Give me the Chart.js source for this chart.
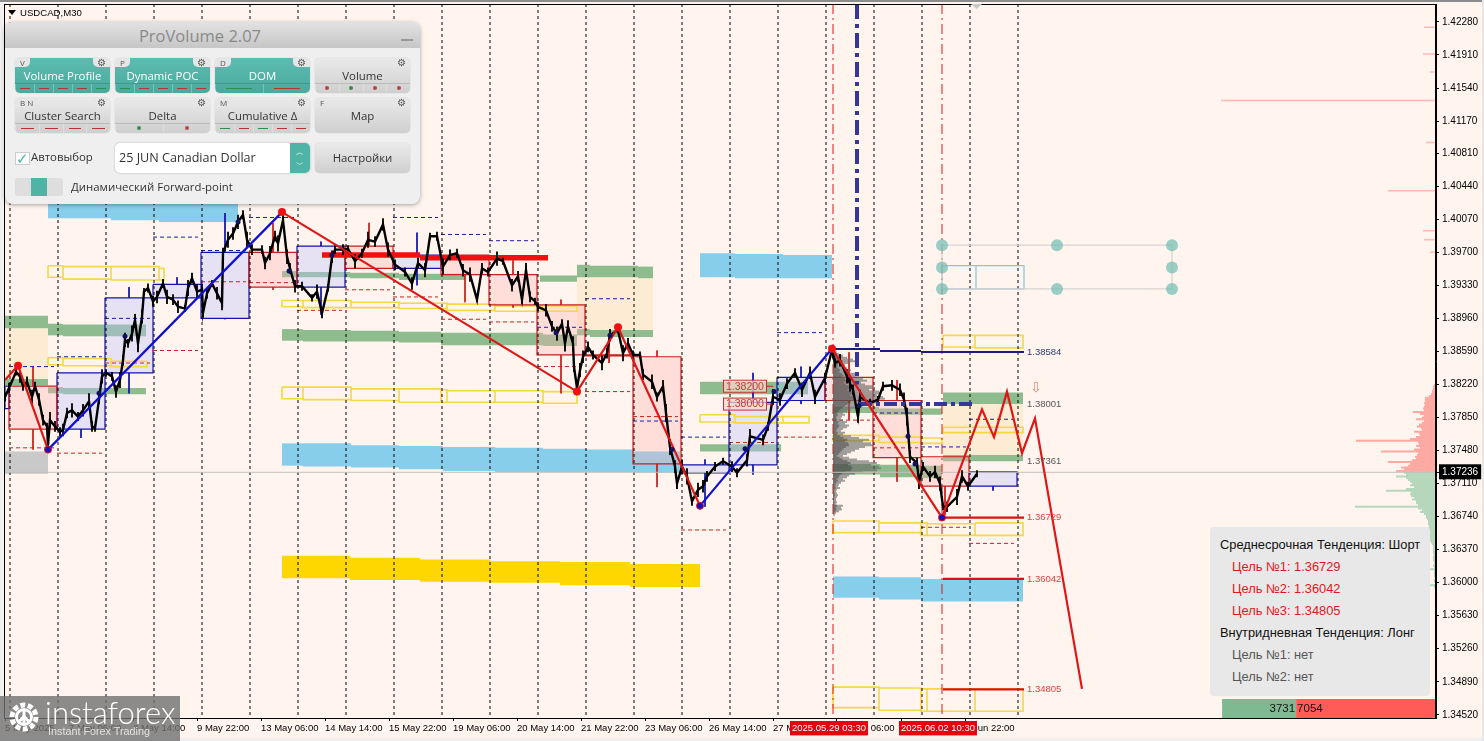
<!DOCTYPE html>
<html><head><meta charset="utf-8">
<script src="https://cdn.jsdelivr.net/npm/chart.js@4"></script>
<style>
html,body{margin:0;padding:0;width:1484px;height:741px;overflow:hidden;background:#fff5ee;font-family:"Liberation Sans",sans-serif}
canvas{position:absolute;left:0;top:0}
.abs{position:absolute}
#panel{left:5px;top:22px;width:415px;height:182px;background:#efefef;border-radius:8px;box-shadow:0 1px 4px rgba(0,0,0,.35);font-family:"Open Sans",sans-serif;overflow:hidden}
#panelHead{left:0;top:0;width:415px;height:26px;background:linear-gradient(#e2e2e2,#c6c6c6);text-align:center;font-size:16.5px;line-height:28px;color:#8a8a8a;padding-right:25px;box-sizing:border-box}
.btn{width:95px;height:35px;border-radius:5px;font-size:11.4px;text-align:center;line-height:36px;box-shadow:0 0 1px #999}
.teal{background:linear-gradient(#5ebdb1,#4aa99d);color:#fff}
.gray{background:linear-gradient(#eaeaea,#cfcfcf);color:#333}
.tab{position:absolute;top:0;left:0;height:9px;padding:0 5px;background:#e6e6e6;border-radius:0 0 5px 0;font-size:8px;line-height:9px;color:#555}
.gear{position:absolute;top:0;right:0;width:17px;height:9px;background:#e6e6e6;border-radius:0 0 0 5px;font-size:10px;line-height:9px;color:#555}
.strip{position:absolute;left:0;right:0;bottom:0;height:9px;display:flex;border-top:1px solid rgba(0,0,0,.12)}
.strip span{flex:1;position:relative;border-left:1px solid rgba(255,255,255,.25)}
.strip i{position:absolute;left:22%;right:22%;top:4px;height:1px}
.strip b{position:absolute;left:50%;top:2px;width:4px;height:4px;margin-left:-2px;border-radius:50%}
#info{left:1210px;top:527px;width:220px;height:169px;background:#e8e8e8;border-radius:4px;font-size:12.85px}
#info div{position:absolute;white-space:nowrap}
#wm{left:0;top:696px;width:180px;height:45px;background:rgba(112,112,112,.8);color:#fff}
</style></head><body>
<canvas id="c" width="1484" height="741"></canvas>
<div class="abs" style="left:0;top:0;width:1484px;height:2px;background:#8c8c8c"></div>
<div class="abs" style="left:0;top:2px;width:3px;height:736px;background:#f0f0f0"></div>
<div class="abs" style="left:0;top:738px;width:1484px;height:3px;background:#efefef"></div>
<div class="abs" style="left:1482px;top:0;width:2px;height:741px;background:#e8e8e8"></div>
<div class="abs" style="left:8px;top:10px;width:0;height:0;border-left:4px solid transparent;border-right:4px solid transparent;border-top:5px solid #000"></div>
<div class="abs" style="left:20px;top:6px;font-size:9.6px;line-height:13px;color:#000">USDCAD,M30</div>

<div class="abs" id="panel">
  <div class="abs" id="panelHead">ProVolume 2.07</div>
  <div class="abs" style="left:396px;top:17px;width:12px;height:2px;background:#999"></div>
  <div class="abs" style="left:10px;top:130px;width:13px;height:11px;background:#fff;border:1px solid #ccc;color:#4fb3a6;font-size:15px;line-height:10px">✓</div>
  <div class="abs" style="left:26px;top:127px;font-size:11.4px;color:#333">Автовыбор</div>
  <div class="abs" style="left:110px;top:121px;width:195px;height:30px;background:#fff;border-radius:5px;box-shadow:0 0 2px #aaa;font-size:12.6px;line-height:30px;color:#333;text-indent:4px">25 JUN Canadian Dollar
    <div class="abs" style="right:0;top:0;width:20px;height:30px;background:#4fb3a6;border-radius:0 5px 5px 0;color:#fff;font-size:8px;line-height:12px;text-align:center;text-indent:0;padding-top:3px;box-sizing:border-box">︿<br>﹀</div>
  </div>
  <div class="abs btn gray" style="left:310px;top:121px;height:30px;line-height:30px">Настройки</div>
  <div class="abs" style="left:10px;top:156px;width:48px;height:18px;background:#dedede;border-radius:3px"><div class="abs" style="left:16px;top:0;width:16px;height:18px;background:#4fb3a6"></div></div>
  <div class="abs" style="left:66px;top:157px;font-size:11.4px;color:#333">Динамический Forward-point</div>
</div>

<div class="abs" id="info">
  <div style="left:10px;top:10px;color:#111">Среднесрочная Тенденция: Шорт</div>
  <div style="left:22px;top:32px;color:#e0181c">Цель №1: 1.36729</div>
  <div style="left:22px;top:54px;color:#e0181c">Цель №2: 1.36042</div>
  <div style="left:22px;top:76px;color:#e0181c">Цель №3: 1.34805</div>
  <div style="left:10px;top:98px;color:#111">Внутридневная Тенденция: Лонг</div>
  <div style="left:22px;top:120px;color:#555">Цель №1: нет</div>
  <div style="left:22px;top:142px;color:#555">Цель №2: нет</div>
</div>

<div class="abs" id="wm">
  <svg class="abs" style="left:6px;top:3px" width="36" height="36" viewBox="0 0 36 36">
    <circle cx="18" cy="18" r="12" fill="none" stroke="#fff" stroke-width="5" stroke-dasharray="5 2.5"/>
    <circle cx="18" cy="18" r="7.5" fill="none" stroke="#fff" stroke-width="3"/>
    <path d="M18 11v15M12 24l6-7 6 7" stroke="#fff" stroke-width="3" fill="none"/>
  </svg>
  <div class="abs" style="left:45px;top:-4px;font-family:Lato,sans-serif;font-weight:300;font-size:31px;line-height:40px;white-space:nowrap">instaforex</div>
  <div class="abs" style="left:48px;top:28px;font-size:10.8px;line-height:14px;color:#e2e2e2;white-space:nowrap">Instant Forex Trading</div>
</div>

<script>
/* ---------- axes ---------- */
const priceTicks=[1.4228,1.4191,1.4154,1.4117,1.4081,1.4044,1.4007,1.3970,1.3933,1.3896,1.3859,1.3822,1.3785,1.3748,1.3711,1.3674,1.3637,1.3600,1.3563,1.3526,1.3489,1.3452];
const lastPrice=1.37236;
const timeBars=[5,69,133,197,261,325,389,453,517,581,645,709,773,837,901,965,792,901];
const timeLabels=['5 May 2025','7 May 06:00','8 May 14:00','9 May 22:00','13 May 06:00','14 May 14:00','15 May 22:00','19 May 06:00','20 May 14:00','21 May 22:00','23 May 06:00','26 May 14:00','27 May 22:00','29 May 06:00','30 May 14:00','2 Jun 22:00','2025.05.29 03:30','2025.06.02 10:30'];
const dayLines=[10,58,106,154,202,250,298,346,394,442,490,538,586,634,682,730,778,826,874,922,970,1018];
const sessionLines=[833,942];

/* ---------- M30 close path ---------- */
const closeBars=[5,9,16,20,23,27,32,35,39,43,47,48,50,55,60,63,67,72,78,83,89,92,95,99,102,106,112,116,120,123,125,128,132,135,138,142,144,148,153,157,163,167,173,178,185,188,192,197,202,203,207,212,217,222,223,228,233,238,243,247,252,262,265,270,275,278,283,287,290,295,302,312,317,322,328,332,335,343,348,355,362,368,375,383,388,395,405,412,418,425,430,437,443,450,457,463,470,477,482,488,497,503,512,518,522,526,530,535,538,546,552,557,562,565,568,573,574,577,580,583,588,593,602,607,610,618,623,628,633,640,643,652,657,663,666,670,675,677,682,687,692,698,703,707,715,723,732,737,747,750,763,768,773,780,787,795,802,810,815,825,832,833,835,840,847,850,853,858,860,870,878,883,892,900,904,907,910,917,919,923,930,935,940,943,947,957,962,968,977];
const closeValues=[1.3808,1.3818,1.3836,1.3831,1.3820,1.3825,1.3808,1.3820,1.3805,1.3782,1.3775,1.3754,1.3782,1.3775,1.3769,1.3771,1.3790,1.3793,1.3786,1.3793,1.3803,1.3775,1.3773,1.3805,1.3831,1.3835,1.3831,1.3814,1.3827,1.3849,1.3872,1.3868,1.3879,1.3894,1.3868,1.3898,1.3926,1.3930,1.3915,1.3920,1.3935,1.3920,1.3917,1.3909,1.3907,1.3930,1.3941,1.3926,1.3928,1.3902,1.3924,1.3935,1.3924,1.3913,1.3969,1.3984,1.3991,1.4004,1.4012,1.3984,1.3973,1.3973,1.3958,1.3969,1.3988,1.3980,1.4006,1.3965,1.3952,1.3932,1.3932,1.3919,1.3926,1.3902,1.3930,1.3965,1.3973,1.3973,1.3974,1.3960,1.3969,1.3984,1.3982,1.4001,1.3973,1.3956,1.3948,1.3935,1.3958,1.3950,1.3988,1.3988,1.3954,1.3967,1.3969,1.3950,1.3945,1.3917,1.3952,1.3948,1.3963,1.3960,1.3933,1.3943,1.3917,1.3950,1.3920,1.3915,1.3909,1.3905,1.3887,1.3879,1.3890,1.3868,1.3887,1.3868,1.3842,1.3818,1.3838,1.3853,1.3864,1.3855,1.3846,1.3857,1.3877,1.3883,1.3857,1.3868,1.3855,1.3855,1.3833,1.3825,1.3808,1.3820,1.3790,1.3752,1.3730,1.3711,1.3730,1.3719,1.3691,1.3704,1.3708,1.3719,1.3730,1.3736,1.3730,1.3723,1.3737,1.3764,1.3760,1.3775,1.3808,1.3805,1.3823,1.3835,1.3816,1.3835,1.3808,1.3829,1.3861,1.3857,1.3846,1.3849,1.3831,1.3823,1.3816,1.3786,1.3808,1.3801,1.3805,1.3820,1.3821,1.3816,1.3805,1.3786,1.3741,1.3734,1.3713,1.3730,1.3719,1.3724,1.3711,1.3685,1.3685,1.3696,1.3719,1.3708,1.3722];
/* half high-low range around each close, in pips */
const closeSpread=[5,6,4,7,5,6,8,5,7,6,4,3,9,6,5,7,6,8,5,7,9,6,4,5,8,4,5,7,9,6,8,5,9,7,10,8,4,5,6,7,5,8,6,7,4,9,6,8,7,5,6,4,7,8,6,9,7,8,5,9,6,5,7,8,6,9,5,8,6,7,5,4,8,6,4,7,5,6,4,8,5,9,6,7,8,6,5,7,6,8,4,5,9,6,5,7,8,3,6,5,8,4,7,6,5,8,6,4,5,7,6,8,5,9,7,8,6,3,8,7,6,5,8,6,7,4,9,6,5,4,6,8,5,7,10,9,7,6,8,9,5,8,7,6,5,4,6,5,7,8,6,5,9,7,6,5,8,7,8,6,4,6,5,7,8,9,6,7,8,5,4,5,6,7,8,10,7,6,8,5,6,7,8,4,6,9,7,5,4,3];

/* ---------- daily bodies ---------- */
const dayStart=[9,57,105,153,201,249,297,345,393,441,489,537,585,633,681,729,777,825,873,921,969];
const dayOpen =[1.3820,1.3772,1.3835,1.3919,1.3896,1.3970,1.3931,1.3977,1.3952,1.3967,1.3945,1.3911,1.3855,1.3853,1.3723,1.3732,1.3804,1.3830,1.3804,1.3741,1.3708];
const dayClose=[1.3772,1.3835,1.3919,1.3934,1.3970,1.3931,1.3977,1.3952,1.3967,1.3945,1.3911,1.3855,1.3854,1.3733,1.3732,1.3802,1.3830,1.3804,1.3740,1.3708,1.3724];
const dayHigh =[1.3842,1.3835,1.3931,1.3942,1.4014,1.4003,1.3982,1.4003,1.3992,1.3967,1.3961,1.3917,1.3877,1.3860,1.3738,1.3835,1.3842,1.3858,1.3827,1.3741,1.3724];
const dayLow  =[1.3749,1.3762,1.3812,1.3919,1.3895,1.3928,1.3900,1.3952,1.3933,1.3914,1.3908,1.3812,1.3846,1.3707,1.3685,1.3721,1.3800,1.3782,1.3713,1.3676,1.3703];
const prevHigh=[1.3842,1.3853,1.3896,1.3987,1.3972,1.4009,null,null,1.4009,1.3990,1.3983,1.3886,1.3918,1.3781,1.3763,null,1.3880,null,1.3790,1.3752,1.3783];
const prevLow =[1.3751,1.3745,1.3846,1.3860,1.3937,1.3936,1.3905,1.3928,1.3920,1.3895,1.3892,1.3842,1.3814,1.3786,1.3659,1.3757,1.3763,1.3782,1.3751,1.3662,1.3644];
const leadBox=[[5,9,1.3820,1.3795]];

/* ---------- zones: bar from, bar to, upper price, lower price ---------- */
const skyZones=[[48,111,1.4024,1.4008],[111,159,1.4024,1.4006],[159,238,1.4024,1.4004],[282,303,1.3756,1.3731],[303,351,1.3756,1.3730],[351,399,1.3754,1.3729],[399,443,1.3753,1.3727],[443,495,1.3752,1.3725],[495,543,1.3751,1.3724],[543,587,1.3750,1.3724],[587,633,1.3749,1.3724],[633,680,1.3747,1.3723],[700,735,1.3969,1.3942],[735,783,1.3968,1.3941],[783,832,1.3967,1.3941],[833,879,1.3607,1.3583],[879,921,1.3606,1.3581],[921,1023,1.3604,1.3579]];
const greenZones=[[5,48,1.3899,1.3885],[48,63,1.3890,1.3877],[63,146,1.3889,1.3876],[5,48,1.3828,1.3821],[48,63,1.3819,1.3812],[63,146,1.3818,1.3811],[282,303,1.3884,1.3871],[303,351,1.3883,1.3870],[351,399,1.3882,1.3870],[399,441,1.3881,1.3869],[441,495,1.3880,1.3866],[495,543,1.3880,1.3866],[543,577,1.3878,1.3865],[282,297,1.3949,1.3942],[297,350,1.3948,1.3942],[350,399,1.3947,1.3941],[399,465,1.3946,1.3939],[540,577,1.3944,1.3937],[577,590,1.3956,1.3942],[590,638,1.3955,1.3942],[638,653,1.3954,1.3941],[577,590,1.3884,1.3877],[590,653,1.3883,1.3875],[700,808,1.3825,1.3811],[700,781,1.3755,1.3747],[943,1023,1.3813,1.3800],[943,1023,1.3743,1.3736],[833,879,1.3797,1.3790],[879,942,1.3795,1.3788],[833,880,1.3733,1.3721],[880,920,1.3732,1.3718],[920,942,1.3731,1.3717]];
const creamZones=[[5,48,1.3885,1.3828],[577,653,1.3942,1.3883],[943,1023,1.3800,1.3743]];
const greyZones=[[5,48,1.3747,1.3722]];
const goldZones=[[282,350,1.3630,1.3605],[350,420,1.3628,1.3603],[420,490,1.3626,1.3601],[490,560,1.3624,1.3600],[560,630,1.3623,1.3597],[630,700,1.3621,1.3595]];
const yellowBoxes=[[48,63,1.3955,1.3942],[63,111,1.3954,1.3940],[111,159,1.3954,1.3939],[159,164,1.3952,1.3939],[48,63,1.3852,1.3844],[63,111,1.3851,1.3843],[111,147,1.3848,1.3842],[282,303,1.3916,1.3909],[303,351,1.3916,1.3908],[351,399,1.3914,1.3908],[399,447,1.3913,1.3907],[447,495,1.3912,1.3905],[495,577,1.3910,1.3904],[282,303,1.3819,1.3806],[303,351,1.3819,1.3805],[351,399,1.3817,1.3804],[399,441,1.3817,1.3802],[441,447,1.3816,1.3802],[447,495,1.3815,1.3802],[495,543,1.3815,1.3802],[543,577,1.3814,1.3801],[700,735,1.3788,1.3780],[735,783,1.3786,1.3779],[783,809,1.3786,1.3779],[943,975,1.3877,1.3864],[975,1023,1.3877,1.3863],[943,975,1.3774,1.3768],[975,1023,1.3774,1.3768],[833,879,1.3765,1.3759],[879,921,1.3763,1.3757],[921,942,1.3762,1.3756],[833,879,1.3669,1.3656],[879,921,1.3667,1.3656],[921,927,1.3667,1.3653],[927,975,1.3666,1.3653],[975,1023,1.3667,1.3653],[833,879,1.3483,1.3460],[879,921,1.3482,1.3457],[921,927,1.3481,1.3456],[927,975,1.3481,1.3456],[975,1023,1.3481,1.3456]];
const widgetBoxes=[[942,976,1.3955,1.3929],[976,1024,1.3955,1.3929]];

/* ---------- swing lines ---------- */
const redSwings=[[[5,1.3827],[18,1.3843],[48,1.3749]],[[282,1.4015],[577,1.3814],[618,1.3886],[700,1.3686]],[[832,1.3862],[942,1.36729],[982,1.3794],[994,1.3763],[1007,1.3814],[1022,1.3745],[1035,1.3784],[1082,1.3481]]];
const blueSwings=[[[48,1.3749],[282,1.4015]],[[700,1.3686],[832,1.3862]]];
const redPivots=[[18,1.3843],[282,1.4015],[577,1.3814],[618,1.3886],[832,1.3862]];
const bluePivots=[[48,1.3749],[700,1.3686],[942,1.36729]];
const smallPivots=[[238,1.4004],[99,1.3812],[125,1.3876],[289,1.3949],[332,1.3967],[556,1.3880],[610,1.3877],[672,1.3749],[745,1.3750],[774,1.3814],[859,1.3798],[908,1.3764],[915,1.3733]];

/* ---------- target levels ---------- */
const navyLevels=[[833,880,1.38617],[880,921,1.38595],[921,1024,1.38584]];
const redLevels=[[942,1024,1.36729],[943,1024,1.36042],[943,1024,1.34805]];
const heavyRedLevels=[[322,420,1.3967],[420,548,1.3964]];
const markLevels=[[766,773,1.3820],[766,773,1.3800]];
const verticalDash=[857,1.4248,1.3822];
const horizontalDash=[859,973,1.3800];
const anchorBars=[942,1057,1172];
const anchorPrices=[1.3978,1.3953,1.3929];

/* ---------- volume profiles ---------- */
const sessionProfileTop=1.3858;
const sessionProfile=[4,6,10,14,20,24,16,12,10,14,18,16,22,26,22,30,34,28,32,40,42,36,46,48,44,50,52,46,44,36,30,24,18,14,10,12,9,8,10,14,12,16,14,10,8,12,10,18,26,36,30,38,40,32,26,22,18,14,10,16,24,36,44,38,46,48,44,30,22,16,14,10,12,8,6,5,7,4,3,4,5,4,3,3,4,3,10,8,9,6,3,2];
const sellProfileTop=1.3821;
const sellProfile=[2,3,3,4,4,5,7,11,11,11,12,11,12,13,12,23,16,12,14,20,12,14,17,19,15,14,22,17,16,20,26,80,18,17,20,16,22,55,18,19,21,20,24,48,26,28,35,32,40];
const buyProfileTop=1.3723;
const buyProfile=[32,30,40,30,28,26,24,26,22,30,50,25,26,25,22,24,20,20,18,81,18,14,16,12,10,10,9,8,8,8,7,8,7,9,8,7,10,10,8,5,4,3,3,3,3,3,2,3,3,3,2,2,3,2,10,2,2,2,2,1,2,2,1,31,2];
const outlierPrices=[1.4222,1.4192,1.4172,1.4140,1.4093,1.4039,1.3994,1.3984,1.3970];
const outlierWidths=[12,13,6,215,10,48,13,12,6];
const deltaValues=[3731,7054];

/* ---------- chart ---------- */
const X0=4,X1=1436,Y0=1.34484,Y1=1.42481;
const ds=[];
const add=o=>ds.push(Object.assign({type:'line',pointRadius:0,borderWidth:1,tension:0,fill:false,borderColor:'transparent',spanGaps:false},o));
const fillRows=(rows,c)=>rows.forEach(([a,b,t,l])=>add({data:[{x:a,y:t},{x:b,y:t}],backgroundColor:c,fill:{value:l},borderWidth:0}));
const boxPath=rows=>rows.flatMap(([a,b,t,l])=>[{x:a,y:t},{x:b,y:t},{x:b,y:l},{x:a,y:l},{x:a,y:t},{x:a,y:null}]);
const segs=rows=>rows.flatMap(([a,b,v])=>[{x:a,y:v},{x:b,y:v},{x:b,y:null}]);
const toPts=a=>a.map(([x,y])=>({x,y}));
const noTicks=s=>{s.paddingTop=0;s.paddingBottom=0;s.paddingLeft=0;s.paddingRight=0};

fillRows(creamZones,'#fdebd3');
fillRows(skyZones,'#87ceeb');
fillRows(greenZones,'#8fbc8f');
fillRows(greyZones,'#c9c9c9');
fillRows(goldZones,'#ffd700');

const bull=dayStart.map((_,i)=>dayClose[i]>=dayOpen[i]);
dayStart.forEach((s,i)=>{
  const t=Math.max(dayOpen[i],dayClose[i]),l=Math.min(dayOpen[i],dayClose[i]);
  add({data:[{x:s,y:t},{x:s+48,y:t}],fill:{value:l},borderWidth:0,backgroundColor:bull[i]?'rgba(190,195,255,.38)':'rgba(255,175,175,.33)'});
});
add({data:boxPath(yellowBoxes),borderColor:'#f3d944',borderWidth:1.6});
add({data:boxPath(widgetBoxes),borderColor:'#8cc4d8',borderWidth:1.2});
add({data:boxPath(leadBox),borderColor:'#1414a8',borderWidth:1.2});
['#1414a8','#c81e1e'].forEach((c,k)=>{
  const idx=dayStart.map((_,i)=>i).filter(i=>bull[i]===(k===0));
  add({data:idx.flatMap(i=>boxPath([[dayStart[i],dayStart[i]+48,Math.max(dayOpen[i],dayClose[i]),Math.min(dayOpen[i],dayClose[i])]])),borderColor:c,borderWidth:1.2});
  add({data:idx.flatMap(i=>{const m=dayStart[i]+24,t=Math.max(dayOpen[i],dayClose[i]),l=Math.min(dayOpen[i],dayClose[i]);
    return [{x:m,y:dayHigh[i]},{x:m,y:t},{x:m,y:null},{x:m,y:l},{x:m,y:dayLow[i]},{x:m,y:null}]}),borderColor:c,borderWidth:1});
});
add({data:dayStart.flatMap((s,i)=>prevHigh[i]===null?[]:[{x:s,y:prevHigh[i]},{x:s+45,y:prevHigh[i]},{x:s,y:null}]),borderColor:'#1a1aa8',borderWidth:1,borderDash:[4,3]});
add({data:dayStart.flatMap((s,i)=>[{x:s,y:prevLow[i]},{x:s+45,y:prevLow[i]},{x:s,y:null}]),borderColor:'#c82020',borderWidth:1,borderDash:[4,3]});
add({data:dayLines.flatMap(x=>[{x,y:Y1},{x,y:Y0},{x,y:null}]),borderColor:'#000',borderWidth:1,borderDash:[3,3]});
add({data:sessionLines.flatMap(x=>[{x,y:Y1},{x,y:Y0},{x,y:null}]),borderColor:'#d81818',borderWidth:1,borderDash:[10,4,2,4]});

add({data:sessionProfile.flatMap((w,i)=>{const p=sessionProfileTop-i*0.0002;return [{x:833,y:p},{x:833+w,y:p},{x:833,y:null}]}),borderColor:'rgba(105,105,105,.62)',borderWidth:2});
add({data:sessionProfile.flatMap((w,i)=>{const p=sessionProfileTop-i*0.0002;return [{x:833,y:p},{x:833+w*.4,y:p},{x:833,y:null}]}),borderColor:'rgba(60,60,60,.45)',borderWidth:2});
add({data:sellProfile.flatMap((w,i)=>{const p=sellProfileTop-i*0.0002;return [{x:X1,y:p},{x:X1-w,y:p},{x:X1,y:null}]}),borderColor:'#ffa9a3',borderWidth:2});
add({data:buyProfile.flatMap((w,i)=>{const p=buyProfileTop-i*0.0002;return [{x:X1,y:p},{x:X1-w,y:p},{x:X1,y:null}]}),borderColor:'#b7d7bd',borderWidth:2});
add({data:outlierPrices.flatMap((p,i)=>[{x:X1,y:p},{x:X1-outlierWidths[i],y:p},{x:X1,y:null}]),borderColor:'#ffb9b3',borderWidth:1.5});
add({data:[{x:X0,y:lastPrice},{x:X1,y:lastPrice}],borderColor:'#c4c0bc',borderWidth:1});

const scaleDelta=74/deltaValues[0];
add({data:[{x:X1-deltaValues[1]*scaleDelta-deltaValues[0]*scaleDelta,y:1.34696},{x:X1-deltaValues[1]*scaleDelta,y:1.34696}],fill:{value:Y0},backgroundColor:'#7fb992',borderWidth:0});
add({data:[{x:X1-deltaValues[1]*scaleDelta,y:1.34696},{x:X1,y:1.34696}],fill:{value:Y0},backgroundColor:'#ff5b57',borderWidth:0});

add({data:segs(heavyRedLevels),borderColor:'#f01010',borderWidth:5.5});
add({data:closeBars.map((x,i)=>({x,y:closeValues[i]})),borderColor:'#000',borderWidth:2.4,borderJoinStyle:'miter'});
add({data:closeBars.flatMap((x,i)=>{const r=closeSpread[i]*0.0001;return [{x,y:closeValues[i]+r},{x,y:closeValues[i]-r},{x,y:null}]}),borderColor:'#000',borderWidth:1.8});
add({data:[{x:verticalDash[0],y:verticalDash[1]},{x:verticalDash[0],y:verticalDash[2]}],borderColor:'#35359a',borderWidth:4,borderDash:[15,5,4,5]});
add({data:[{x:horizontalDash[0],y:horizontalDash[2]},{x:horizontalDash[1],y:horizontalDash[2]}],borderColor:'#35359a',borderWidth:4,borderDash:[13,4,4,4]});
blueSwings.forEach(s=>add({data:toPts(s),borderColor:'#1010d0',borderWidth:2.2}));
redSwings.forEach(s=>add({data:toPts(s),borderColor:'#e01515',borderWidth:2.2}));
add({data:segs(navyLevels),borderColor:'#1c1c7c',borderWidth:2});
add({data:segs(redLevels),borderColor:'#e01010',borderWidth:2.2});
add({data:segs(markLevels),borderColor:'#c82020',borderWidth:1});
add({data:toPts(smallPivots),showLine:false,pointRadius:2.5,pointBackgroundColor:'#12125e',pointBorderWidth:0});
add({data:toPts(redPivots),showLine:false,pointRadius:4,pointBackgroundColor:'#f01010',pointBorderWidth:0});
add({data:toPts(bluePivots),showLine:false,pointRadius:3.5,pointBackgroundColor:'#1414c0',pointBorderColor:'#e01515',pointBorderWidth:1});
add({data:[{x:anchorBars[0],y:anchorPrices[0]},{x:anchorBars[0],y:anchorPrices[2]},{x:anchorBars[0],y:null},{x:anchorBars[2],y:anchorPrices[0]},{x:anchorBars[2],y:anchorPrices[2]},{x:anchorBars[2],y:null}].concat([anchorPrices[0],anchorPrices[2]].flatMap(p=>[{x:anchorBars[0],y:p},{x:anchorBars[2],y:p},{x:anchorBars[2],y:null}])),borderColor:'#d6d2cf',borderWidth:1.2});
add({data:[[0,0],[1,0],[2,0],[0,1],[2,1],[0,2],[1,2],[2,2]].map(([a,b])=>({x:anchorBars[a],y:anchorPrices[b]})),showLine:false,pointRadius:6,pointBackgroundColor:'rgba(115,190,180,.72)',pointBorderWidth:0});
ds.forEach((d,i)=>d.order=ds.length-i);

const priceLabels=[['1.38584',1.38584,'#2f3b72'],['1.38001',1.38001,'#555'],['1.37361',1.37361,'#555'],['1.36729',1.36729,'#e04040'],['1.36042',1.36042,'#e04040'],['1.34805',1.34805,'#e04040']];
const markLabels=[['1.38200',1.3820],['1.38000',1.3800]];

const textPlugin={id:'text',afterDatasetsDraw(ch){
  const {ctx,chartArea:a,scales:{x,y}}=ch;
  ctx.save();
  ctx.strokeStyle='#000';ctx.lineWidth=1;
  ctx.strokeRect(a.left+.5,a.top+.5,a.right-a.left-1,a.bottom-a.top);
  ctx.textBaseline='middle';ctx.textAlign='left';
  ctx.font='9.5px "Liberation Sans"';
  priceLabels.forEach(([t,p,c])=>{ctx.fillStyle=c;ctx.fillText(t,1027,y.getPixelForValue(p)+(t==='1.38001'?.5:0));});
  markLabels.forEach(([t,p])=>{
    const py=y.getPixelForValue(p);
    ctx.fillStyle='rgba(250,215,205,.75)';ctx.fillRect(723.5,py-6,43,12);
    ctx.strokeStyle='#c83030';ctx.strokeRect(723.5,py-6,43,12);
    ctx.fillStyle='#c04030';ctx.font='10.5px "Liberation Sans"';ctx.fillText(t,726,py+.5);
  });
  ctx.fillStyle='#ee8877';ctx.font='14px "DejaVu Sans"';ctx.fillText('⇩',1030,y.getPixelForValue(1.3816)-1);
  ctx.fillStyle='#111';ctx.font='11.5px "Liberation Sans"';
  ctx.textAlign='right';ctx.fillText(String(deltaValues[0]),x.getPixelForValue(X1-deltaValues[1]*scaleDelta)-1,709);
  ctx.textAlign='left';ctx.fillText(String(deltaValues[1]),x.getPixelForValue(X1-deltaValues[1]*scaleDelta)+1,709);
  ctx.fillStyle='#c8c8c8';ctx.beginPath();ctx.moveTo(971,4);ctx.lineTo(982,4);ctx.lineTo(976.5,9);ctx.fill();
  ctx.restore();
}};

new Chart(document.getElementById('c'),{
  data:{datasets:ds},
  plugins:[textPlugin],
  options:{responsive:false,animation:false,devicePixelRatio:1,events:[],
    layout:{autoPadding:false,padding:{left:4,top:4,right:0,bottom:0}},
    plugins:{legend:{display:false},tooltip:{enabled:false},title:{display:false}},
    scales:{
      x:{type:'linear',min:X0,max:X1,position:'bottom',
        afterFit:s=>{s.height=23;noTicks(s)},
        afterBuildTicks:s=>{s.ticks=timeBars.map(value=>({value}))},
        border:{color:'#000'},
        grid:{drawOnChartArea:false,drawTicks:true,tickLength:3,tickColor:c=>c.index>=16?'transparent':'#000'},
        ticks:{autoSkip:false,maxRotation:0,minRotation:0,align:'start',padding:2,
          font:{family:'"Liberation Sans"',size:9.5},
          callback:(v,i)=>timeLabels[i],
          color:c=>c.index>=16?'#fff':'#000',
          showLabelBackdrop:c=>c.index>=16,
          backdropColor:'#e8000f',backdropPadding:{left:2,right:2,top:2,bottom:1}}},
      y:{type:'linear',min:Y0,max:Y1,position:'right',
        afterFit:s=>{s.width=48;noTicks(s)},
        afterBuildTicks:s=>{s.ticks=priceTicks.concat([lastPrice]).map(value=>({value}))},
        border:{color:'#000'},
        grid:{drawOnChartArea:false,drawTicks:true,tickLength:3,tickColor:'#000'},
        ticks:{autoSkip:false,padding:3,
          font:{family:'"Liberation Sans"',size:10},
          callback:v=>v.toFixed(5),
          color:c=>c.index===priceTicks.length?'#fff':'#000',
          showLabelBackdrop:c=>c.index===priceTicks.length,
          backdropColor:'#000',backdropPadding:{left:3,right:3,top:2,bottom:1}}}
    }
  }
});

/* ---------- ProVolume panel ---------- */
const panelButtons=[
 ['Volume Profile','V',1,'d','rrrrg'],['Dynamic POC','P',1,'d','grrrr'],['DOM','D',1,'d','gr'],['Volume','',0,'o','rgrr'],
 ['Cluster Search','B  N',0,'d','rrrr'],['Delta','',0,'o','gr'],['Cumulative Δ','M',0,'d','grgrr'],['Map','F',0,'',''] ];
const panel=document.getElementById('panel');
panelButtons.forEach(([t,k,on,kind,marks],i)=>{
  const b=document.createElement('div');
  b.className='abs btn '+(on?'teal':'gray');
  b.style.left=(10+(i%4)*100)+'px';b.style.top=(36+Math.floor(i/4)*40)+'px';
  const strip=marks?'<div class="strip">'+[...marks].map(m=>{
    const col=m==='g'?(kind==='o'?'#3d8a55':'#2f8f4f'):(kind==='o'?'#b5483f':'#b5352b');
    return '<span>'+(kind==='d'?`<i style="background:${col}"></i>`:`<b style="background:${col}"></b>`)+'</span>';}).join('')+'</div>':'';
  b.innerHTML=(k?`<div class="tab">${k}</div>`:'')+'<div class="gear">⚙</div>'+t+strip;
  panel.appendChild(b);
});
</script>
</body></html>
